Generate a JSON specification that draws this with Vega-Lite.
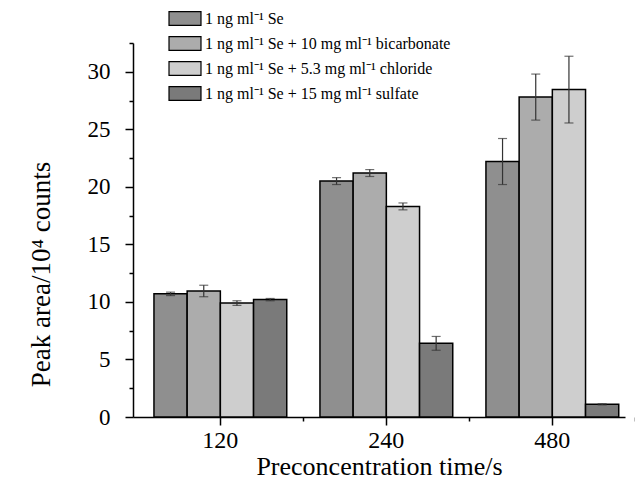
{
  "$schema": "https://vega.github.io/schema/vega-lite/v6.json",
  "width": 492,
  "height": 374,
  "autosize": {"type": "none"},
  "padding": {"left": 133, "top": 43, "right": 10, "bottom": 64},
  "background": "white",
  "config": {
    "view": {"stroke": null},
    "font": "Liberation Serif",
    "axis": {"domainColor": "black", "tickColor": "black", "labelColor": "black", "titleColor": "black", "labelFont": "Liberation Serif", "titleFont": "Liberation Serif", "titleFontWeight": "normal", "grid": false, "domainWidth": 1.5, "tickWidth": 1.5},
    "legend": {"labelFont": "Liberation Serif"}
  },
  "data": {
    "values": [
      {"time": "120", "series": "1 ng ml⁻¹ Se", "value": 10.7, "lo": 10.55, "hi": 10.85},
      {"time": "120", "series": "1 ng ml⁻¹ Se + 10 mg ml⁻¹ bicarbonate", "value": 10.95, "lo": 10.45, "hi": 11.45},
      {"time": "120", "series": "1 ng ml⁻¹ Se + 5.3 mg ml⁻¹ chloride", "value": 9.9, "lo": 9.7, "hi": 10.1},
      {"time": "120", "series": "1 ng ml⁻¹ Se + 15 mg ml⁻¹ sulfate", "value": 10.2, "lo": 10.1, "hi": 10.3},
      {"time": "240", "series": "1 ng ml⁻¹ Se", "value": 20.5, "lo": 20.2, "hi": 20.8},
      {"time": "240", "series": "1 ng ml⁻¹ Se + 10 mg ml⁻¹ bicarbonate", "value": 21.2, "lo": 20.9, "hi": 21.5},
      {"time": "240", "series": "1 ng ml⁻¹ Se + 5.3 mg ml⁻¹ chloride", "value": 18.3, "lo": 18.0, "hi": 18.6},
      {"time": "240", "series": "1 ng ml⁻¹ Se + 15 mg ml⁻¹ sulfate", "value": 6.4, "lo": 5.8, "hi": 7.0},
      {"time": "480", "series": "1 ng ml⁻¹ Se", "value": 22.2, "lo": 20.2, "hi": 24.2},
      {"time": "480", "series": "1 ng ml⁻¹ Se + 10 mg ml⁻¹ bicarbonate", "value": 27.8, "lo": 25.8, "hi": 29.8},
      {"time": "480", "series": "1 ng ml⁻¹ Se + 5.3 mg ml⁻¹ chloride", "value": 28.45, "lo": 25.55, "hi": 31.35},
      {"time": "480", "series": "1 ng ml⁻¹ Se + 15 mg ml⁻¹ sulfate", "value": 1.1, "lo": 1.05, "hi": 1.15}
    ]
  },
  "encoding": {
    "x": {
      "field": "time", "type": "nominal", "sort": ["120", "240", "480"],
      "scale": {"paddingInner": 0.2, "paddingOuter": 0.082, "align": 0.77}
    },
    "xOffset": {
      "field": "series", "type": "nominal",
      "sort": ["1 ng ml⁻¹ Se", "1 ng ml⁻¹ Se + 10 mg ml⁻¹ bicarbonate", "1 ng ml⁻¹ Se + 5.3 mg ml⁻¹ chloride", "1 ng ml⁻¹ Se + 15 mg ml⁻¹ sulfate"],
      "scale": {"paddingInner": 0, "paddingOuter": 0}
    }
  },
  "layer": [
    {
      "mark": {"type": "bar", "stroke": "black", "strokeWidth": 1.5, "opacity": 1},
      "encoding": {
        "x": {
          "field": "time", "type": "nominal", "sort": ["120", "240", "480"],
          "axis": {"orient": "bottom", "labelAngle": 0, "labelFont": "Liberation Serif", "labelFontSize": 24, "labelPadding": 3, "tickSize": 8, "title": "Preconcentration time/s", "titleFont": "Liberation Serif", "titleFontSize": 26, "titleY": 49, "titleBaseline": "middle"}
        },
        "y": {
          "field": "value", "type": "quantitative",
          "scale": {"domain": [0, 32.5], "nice": false},
          "axis": {"orient": "left", "values": [0, 5, 10, 15, 20, 25, 30], "labelFont": "Liberation Serif", "labelFontSize": 23, "labelPadding": 15, "tickSize": 8, "title": "Peak area/10⁴ counts", "titleFont": "Liberation Serif", "titleFontSize": 27, "titleX": -92, "titleY": 231, "titleBaseline": "middle", "titleAlign": "center"}
        },
        "fill": {
          "field": "series", "type": "nominal",
          "scale": {
            "domain": ["1 ng ml⁻¹ Se", "1 ng ml⁻¹ Se + 10 mg ml⁻¹ bicarbonate", "1 ng ml⁻¹ Se + 5.3 mg ml⁻¹ chloride", "1 ng ml⁻¹ Se + 15 mg ml⁻¹ sulfate"],
            "range": ["#8f8f8f", "#acacac", "#cecece", "#7a7a7a"]
          },
          "legend": {
            "orient": "none", "legendX": 36.5, "legendY": -40, "title": null,
            "symbolType": "M-1.103,-0.48H1.103V0.48H-1.103Z", "symbolSize": 841,
            "symbolStrokeColor": "black", "symbolStrokeWidth": 1.2, "symbolOpacity": 1,
            "labelFont": "Liberation Serif", "labelFontSize": 16, "labelColor": "black", "labelOffset": 4.5, "rowPadding": 0, "labelLimit": 400
          }
        }
      }
    },
    {
      "mark": {"type": "errorbar", "ticks": {"size": 9, "color": "#333333", "thickness": 1.2}, "color": "#333333", "thickness": 1.2},
      "encoding": {
        "x": {
          "field": "time", "type": "nominal", "sort": ["120", "240", "480"],
          "axis": {"orient": "bottom", "labels": false, "title": null, "domain": false, "tickSize": 4, "tickOffset": 83}
        },
        "y": {
          "field": "lo", "type": "quantitative",
          "axis": {"orient": "left", "values": [2.5, 7.5, 12.5, 17.5, 22.5, 27.5, 32.5], "labels": false, "title": null, "domain": false, "tickSize": 4}
        },
        "y2": {"field": "hi"}
      }
    }
  ],
  "resolve": {"axis": {"x": "independent", "y": "independent"}}
}
